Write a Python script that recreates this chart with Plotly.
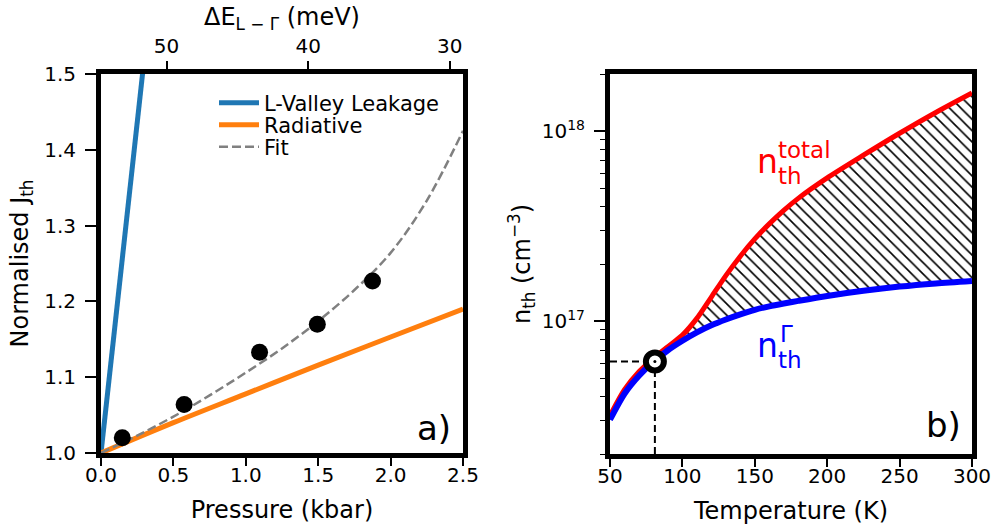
import plotly.graph_objects as go

# ---------------- Panel a) data ----------------
pressure_dots = [0.147, 0.574, 1.095, 1.494, 1.875]
jth_dots = [1.020, 1.064, 1.133, 1.170, 1.227]

pressure_fit = [0.0, 0.25, 0.5, 0.75, 1.0, 1.25, 1.5, 1.75, 2.0, 2.25, 2.5]
jth_fit = [1.000, 1.023, 1.048, 1.076, 1.106, 1.138, 1.174, 1.215, 1.264, 1.333, 1.425]

pressure_rad = [0.0, 0.5, 1.0, 1.5, 2.0, 2.5]
jth_rad = [1.000, 1.040, 1.078, 1.116, 1.153, 1.190]

pressure_leak = [0.0, 0.1, 0.2, 0.3]
jth_leak = [1.000, 1.178, 1.352, 1.523]

delta_e_ticks = [50, 40, 30]
delta_e_range = [54.63, 29.07]

# ---------------- Panel b) data ----------------
temperature = [50, 60, 70, 80, 90, 100, 110, 120, 130, 140, 150, 160, 170, 180, 200, 225, 250, 275, 300]
n_total = [3.18e16, 4.36e16, 5.42e16, 6.38e16, 7.35e16, 8.45e16, 1.035e17, 1.340e17, 1.738e17,
           2.198e17, 2.710e17, 3.253e17, 3.830e17, 4.430e17, 5.677e17, 7.473e17, 9.752e17,
           1.255e18, 1.589e18]
n_gamma = [3.03e16, 4.15e16, 5.16e16, 6.11e16, 7.03e16, 7.89e16, 8.73e16, 9.51e16, 1.021e17,
           1.086e17, 1.148e17, 1.197e17, 1.239e17, 1.279e17, 1.358e17, 1.445e17, 1.521e17,
           1.581e17, 1.629e17]
op_temperature = 81
op_density = 6.14e16

# ---------------- figure ----------------
W, H = 995, 526
FONT = "DejaVu Sans"
BLUE_MPL = "#1f77b4"
ORANGE_MPL = "#ff7f0e"


def px(x):
    return x / W


def py(y):
    return 1 - y / H


fig = go.Figure()

# Panel a
fig.add_trace(go.Scatter(x=pressure_leak, y=jth_leak, mode="lines", name="L-Valley Leakage",
                         legend="legend", line=dict(color=BLUE_MPL, width=5),
                         xaxis="x", yaxis="y"))
fig.add_trace(go.Scatter(x=pressure_rad, y=jth_rad, mode="lines", name="Radiative",
                         legend="legend2", line=dict(color=ORANGE_MPL, width=5, shape="spline"),
                         xaxis="x", yaxis="y"))
fig.add_trace(go.Scatter(x=pressure_fit, y=jth_fit, mode="lines", name="Fit",
                         legend="legend3",
                         line=dict(color="#808080", width=2.5, dash="9px,4px", shape="spline"),
                         xaxis="x", yaxis="y"))
fig.add_trace(go.Scatter(x=pressure_dots, y=jth_dots, mode="markers", showlegend=False,
                         marker=dict(color="black", size=17), xaxis="x", yaxis="y"))
# invisible trace to carry the top ΔE axis
fig.add_trace(go.Scatter(x=delta_e_range, y=[1.0, 1.0], mode="lines", showlegend=False,
                         line=dict(width=0), hoverinfo="skip", xaxis="x3", yaxis="y"))

# Panel b
fig.add_trace(go.Scatter(x=temperature, y=n_gamma, mode="lines", showlegend=False,
                         line=dict(width=0, shape="spline", smoothing=0.8), hoverinfo="skip",
                         xaxis="x2", yaxis="y2"))
fig.add_trace(go.Scatter(x=temperature, y=n_total, mode="lines", showlegend=False,
                         line=dict(width=0, shape="spline", smoothing=0.8), fill="tonexty",
                         fillcolor="white",
                         fillpattern=dict(shape="\\", fgcolor="black", bgcolor="white",
                                          size=8, solidity=0.2, fillmode="replace"),
                         hoverinfo="skip", xaxis="x2", yaxis="y2"))
fig.add_trace(go.Scatter(x=temperature, y=n_total, mode="lines", showlegend=False,
                         line=dict(color="#ff0000", width=5, shape="spline", smoothing=0.8),
                         xaxis="x2", yaxis="y2"))
fig.add_trace(go.Scatter(x=temperature, y=n_gamma, mode="lines", showlegend=False,
                         line=dict(color="#0000ff", width=6, shape="spline", smoothing=0.8),
                         xaxis="x2", yaxis="y2"))
fig.add_trace(go.Scatter(x=[50, op_temperature], y=[op_density, op_density], mode="lines",
                         showlegend=False, line=dict(color="black", width=2, dash="7px,4px"),
                         xaxis="x2", yaxis="y2"))
fig.add_trace(go.Scatter(x=[op_temperature, op_temperature], y=[2e16, op_density], mode="lines",
                         showlegend=False, line=dict(color="black", width=2, dash="7px,4px"),
                         xaxis="x2", yaxis="y2"))
fig.add_trace(go.Scatter(x=[op_temperature], y=[op_density], mode="markers", showlegend=False,
                         marker=dict(color="white", size=18, line=dict(color="black", width=6)),
                         xaxis="x2", yaxis="y2"))
fig.add_trace(go.Scatter(x=[op_temperature], y=[op_density], mode="markers", showlegend=False,
                         marker=dict(color="black", size=3), xaxis="x2", yaxis="y2"))

TICKFONT = dict(family=FONT, size=20, color="black")
line_style = dict(showline=True, linewidth=5, linecolor="black", mirror=True,
                  showgrid=False, zeroline=False, automargin=False,
                  ticks="outside", tickwidth=1.6, tickcolor="black", tickfont=TICKFONT)
x_style = dict(ticklen=8, ticklabelstandoff=-8, **line_style)
y_style = dict(ticklen=11, ticklabelstandoff=5, **line_style)

legend_common = dict(xanchor="left", yanchor="middle", bgcolor="rgba(0,0,0,0)",
                     font=dict(family=FONT, size=21, color="black"), itemwidth=40)

fig.update_layout(
    width=W, height=H,
    margin=dict(l=0, r=0, t=0, b=0),
    paper_bgcolor="white", plot_bgcolor="white",
    font=dict(family=FONT, color="black"),
    showlegend=True,
    legend=dict(x=px(214), y=py(103), **legend_common),
    legend2=dict(x=px(214), y=py(125), **legend_common),
    legend3=dict(x=px(214), y=py(147), **legend_common),
    xaxis=dict(domain=[px(101), px(463)], range=[0, 2.5], anchor="y",
               tickvals=[0, 0.5, 1.0, 1.5, 2.0, 2.5], tickformat=".1f",
               title=dict(text="Pressure (kbar)", font=dict(size=24), standoff=17),
               **x_style),
    yaxis=dict(domain=[py(453), py(74)], range=[1.0, 1.5], anchor="x",
               tickvals=[1.0, 1.1, 1.2, 1.3, 1.4, 1.5], tickformat=".1f",
               title=dict(text="Normalised J<sub>th</sub>", font=dict(size=24), standoff=10),
               **y_style),
    xaxis3=dict(overlaying="x", side="top", anchor="y", range=delta_e_range,
                tickvals=delta_e_ticks, showline=True, linewidth=5, linecolor="black",
                ticks="outside", ticklen=8, tickwidth=1.6, tickcolor="black",
                showgrid=False, zeroline=False, automargin=False, tickfont=TICKFONT,
                title=dict(text="ΔE<sub>L − Γ</sub> (meV)", font=dict(size=24), standoff=0)),
    xaxis2=dict(domain=[px(610), px(972)], range=[50, 300], anchor="y2",
                tickvals=[50, 100, 150, 200, 250, 300],
                title=dict(text="Temperature (K)", font=dict(size=24), standoff=17),
                **x_style),
    yaxis2=dict(domain=[py(454), py(74)], type="log",
                range=[16.30103, 18.30103], anchor="x2",
                tickvals=[1e17, 1e18], ticktext=["10<sup>17</sup>", "10<sup>18</sup>"],
                minor=dict(ticks="outside", ticklen=5, tickwidth=1.2, tickcolor="black",
                           tickmode="array",
                           tickvals=[m * 10 ** e for e in (16, 17) for m in range(2, 10)] + [2e18]),
                title=dict(text="n<sub>th</sub> (cm<sup>−3</sup>)", font=dict(size=24), standoff=6),
                **y_style),
)

ann = []


def label(text, x, y, size, color, xanchor="left"):
    ann.append(dict(text=text, x=px(x), y=py(y), xref="paper", yref="paper",
                    xanchor=xanchor, yanchor="middle", showarrow=False,
                    font=dict(family=FONT, size=size, color=color)))


# n_th^total
label("n", 755, 161.5, 33, "#ff0000")
label("total", 776, 150, 23, "#ff0000")
label("th", 776, 176, 23, "#ff0000")
# n_th^Γ
label("n", 755, 345, 33, "#0000ff")
label("Γ", 778, 334, 23, "#0000ff")
label("th", 776, 360, 23, "#0000ff")
# panel letters
label("a)", 453, 428, 34, "black", xanchor="right")
label("b)", 963, 425, 34, "black", xanchor="right")

fig.update_layout(annotations=ann)

fig.write_html("out.html", config={"displayModeBar": False},
               post_script="document.body.style.margin='0';")
